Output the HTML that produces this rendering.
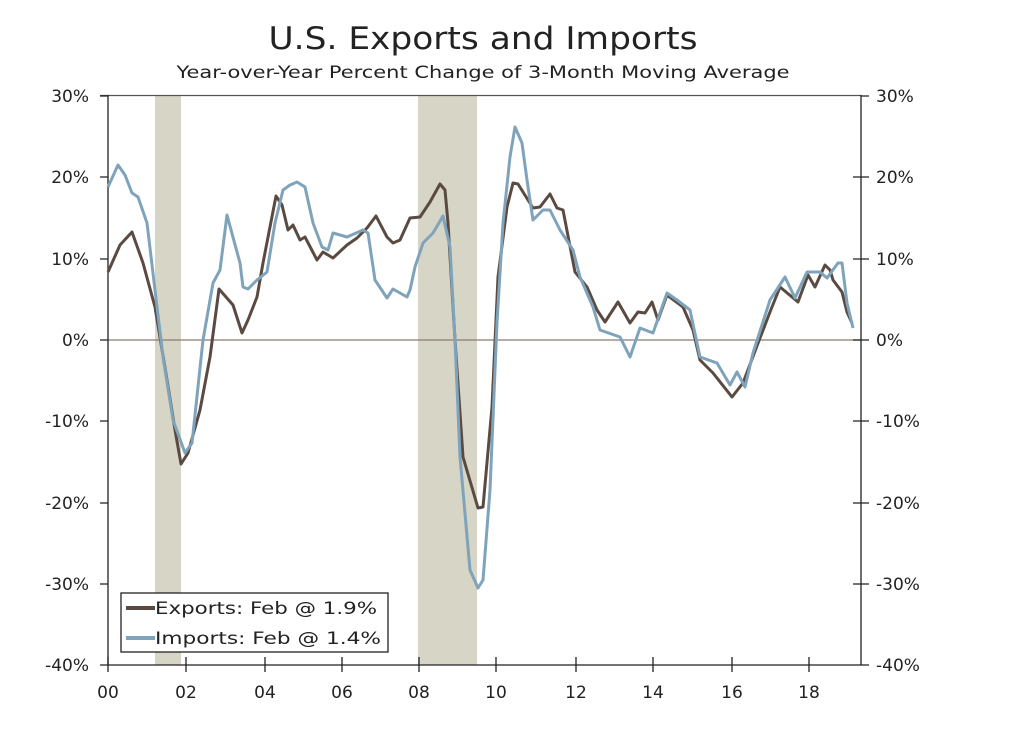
<!DOCTYPE html>
<html><head><meta charset="utf-8"><style>body{margin:0;background:#fff}svg{display:block}text{font-family:"DejaVu Sans","Liberation Sans",sans-serif;fill:#222}</style></head><body>
<svg width="1034" height="740" viewBox="0 0 1034 740">
<text x="483" y="49" font-size="31" text-anchor="middle" textLength="429" lengthAdjust="spacingAndGlyphs">U.S. Exports and Imports</text>
<text x="483" y="78" font-size="17" text-anchor="middle" textLength="613" lengthAdjust="spacingAndGlyphs">Year-over-Year Percent Change of 3-Month Moving Average</text>
<rect x="155" y="96" width="26" height="569" fill="#d6d5c6"/>
<rect x="418" y="96" width="59" height="569" fill="#d6d5c6"/>
<line x1="108" y1="340" x2="861" y2="340" stroke="#8a7a70" stroke-width="1.3"/>
<g stroke="#222" stroke-width="1.3" fill="none">
<line x1="100" y1="95.5" x2="861" y2="95.5" stroke="#555"/>
<line x1="108" y1="95" x2="108" y2="665"/>
<line x1="861" y1="95" x2="861" y2="665"/>
<line x1="100" y1="665" x2="869" y2="665"/>
<path d="M100 96h8M100 177h8M100 259h8M100 340h8M100 421h8M100 503h8M100 584h8M861 96h8M861 177h8M861 259h8M861 340h8M861 421h8M861 503h8M861 584h8M853 177h8M853 259h8M853 340h8M853 421h8M853 503h8M853 584h8M186 657v8M265 657v8M342 657v8M419 657v8M496 657v8M576 657v8M653 657v8M732 657v8M809 657v8M108 657v15M186 665v7M265 665v7M342 665v7M419 665v7M496 665v7M576 665v7M653 665v7M732 665v7M809 665v7"/>
</g>
<g font-size="17" text-anchor="end">
<text x="89" y="102">30%</text><text x="89" y="183">20%</text><text x="89" y="265">10%</text><text x="89" y="346">0%</text><text x="89" y="427">-10%</text><text x="89" y="509">-20%</text><text x="89" y="590">-30%</text><text x="89" y="671">-40%</text>
</g>
<g font-size="17">
<text x="876" y="102">30%</text><text x="876" y="183">20%</text><text x="876" y="265">10%</text><text x="876" y="346">0%</text><text x="876" y="427">-10%</text><text x="876" y="509">-20%</text><text x="876" y="590">-30%</text><text x="876" y="671">-40%</text>
</g>
<g font-size="17" text-anchor="middle">
<text x="108" y="698">00</text><text x="186" y="698">02</text><text x="265" y="698">04</text><text x="342" y="698">06</text><text x="419" y="698">08</text><text x="496" y="698">10</text><text x="576" y="698">12</text><text x="653" y="698">14</text><text x="732" y="698">16</text><text x="809" y="698">18</text>
</g>
<polyline fill="none" stroke="#5a4a42" stroke-width="3" stroke-linejoin="round" points="108,272 120,245 132,232 143,263 155,307 167,380 175,430 181,464 188,453 200,410 210,357 219,289 233,305 242,333 248,320 257,297 263,263 276,196 282,205 288,230 293,225 300,240 305,237 317,260 323,252 333,258 347,245 357,238 367,228 376,216 387,237 393,243 400,240 410,218 420,217 430,202 440,184 445,190 448,223 455,340 463,457 478,508 483,507 492,407 498,277 507,207 513,183 518,184 533,208 540,207 550,194 557,208 563,210 575,272 587,287 597,310 605,322 618,302 630,323 638,312 645,313 652,302 658,320 667,295 683,307 693,330 700,360 713,373 732,397 743,383 760,338 770,312 780,287 798,302 808,275 815,287 825,265 830,270 833,280 842,292 847,312 852,323"/>
<polyline fill="none" stroke="#7fa3bb" stroke-width="3" stroke-linejoin="round" points="108,187 118,165 125,175 132,193 138,197 147,223 155,290 163,357 173,420 185,453 192,443 203,340 213,283 220,270 227,215 240,263 243,287 248,289 257,280 267,272 275,223 283,190 290,185 297,182 305,187 313,223 322,247 328,250 333,233 347,237 363,230 368,233 375,280 387,298 393,289 407,297 410,290 415,267 423,243 433,233 443,216 450,247 455,340 460,457 470,570 478,588 483,580 490,490 497,323 503,223 510,157 515,127 522,143 527,180 533,220 543,210 550,210 560,230 573,250 580,277 593,307 600,330 620,337 630,357 640,328 653,333 667,293 677,300 690,310 700,357 717,363 730,385 737,372 745,387 753,353 770,300 785,277 795,298 807,272 820,272 827,278 838,263 842,263 847,303 853,328"/>
<rect x="121" y="593" width="267" height="59" fill="#fff" stroke="#222" stroke-width="1.3"/>
<line x1="126" y1="608" x2="155" y2="608" stroke="#5a4a42" stroke-width="4"/>
<line x1="126" y1="638" x2="155" y2="638" stroke="#7fa3bb" stroke-width="4"/>
<text x="155" y="614" font-size="17" textLength="222" lengthAdjust="spacingAndGlyphs">Exports: Feb @ 1.9%</text>
<text x="155" y="644" font-size="17" textLength="226" lengthAdjust="spacingAndGlyphs">Imports: Feb @ 1.4%</text>
</svg>
</body></html>
